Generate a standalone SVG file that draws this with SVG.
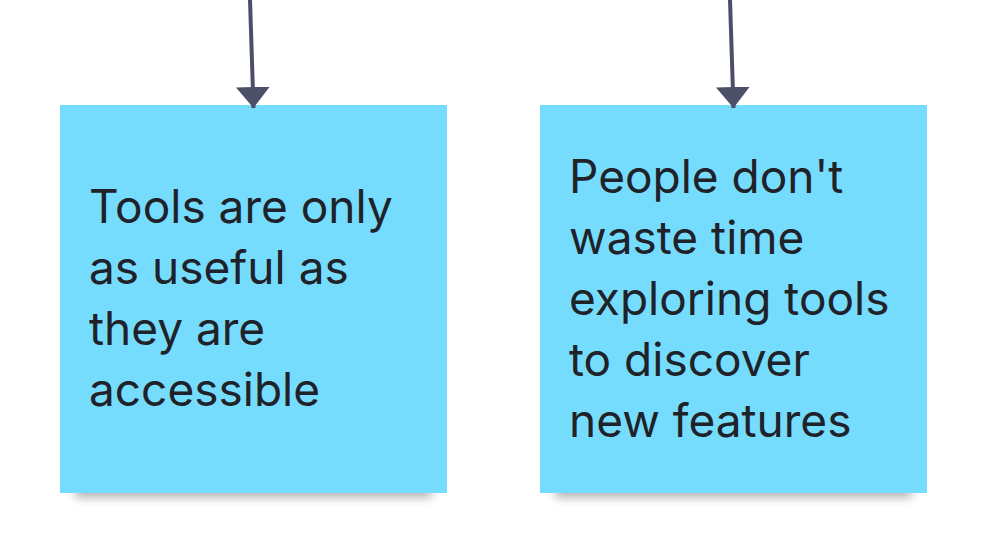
<svg xmlns="http://www.w3.org/2000/svg" width="993" height="555" viewBox="0 0 993 555">
  <style>
    .note { fill: #76DCFE; }
    .shadow { fill: #000; opacity: 0.28; filter: url(#soft); }
    .label { font-family: Inter, "Noto Sans", "Liberation Sans", sans-serif; font-size: 46px; fill: #1F2228; }
    .wire { fill: none; stroke: #4B5068; stroke-width: 4; }
  </style>
  <defs>
    <filter id="soft" x="-10%" y="-50%" width="120%" height="200%">
      <feGaussianBlur stdDeviation="5"/>
    </filter>
    <marker id="head" viewBox="0 0 21 34" refX="21" refY="17" markerWidth="21" markerHeight="34" markerUnits="userSpaceOnUse" orient="auto">
      <path d="M0,0 L21,17 L0,34 Z" fill="#4B5068"/>
    </marker>
  </defs>

  <g id="note-accessible">
    <rect class="shadow" x="75" y="478" width="357" height="20"/>
    <rect class="note" x="60" y="105" width="387" height="388"/>
    <text class="label">
      <tspan x="89" y="223">Tools are only</tspan>
      <tspan x="89" y="284">as useful as</tspan>
      <tspan x="89" y="345">they are</tspan>
      <tspan x="89" y="406">accessible</tspan>
    </text>
  </g>

  <g id="note-explore">
    <rect class="shadow" x="555" y="478" width="357" height="20"/>
    <rect class="note" x="540" y="105" width="387" height="388"/>
    <text class="label">
      <tspan x="569" y="193">People don't</tspan>
      <tspan x="569" y="254">waste time</tspan>
      <tspan x="569" y="315">exploring tools</tspan>
      <tspan x="569" y="376">to discover</tspan>
      <tspan x="569" y="437">new features</tspan>
    </text>
  </g>

  <g id="connectors">
    <path class="wire" d="M250,0 Q252,55 253.5,108" marker-end="url(#head)"/>
    <path class="wire" d="M730,0 Q732,55 733.5,108" marker-end="url(#head)"/>
  </g>
</svg>
